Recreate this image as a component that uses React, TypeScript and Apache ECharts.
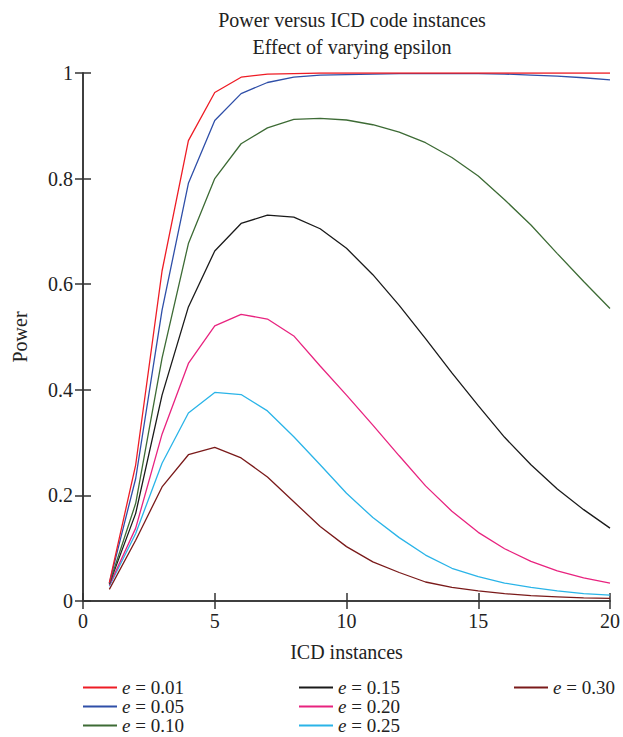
import React, { useEffect, useRef } from "react";
import * as echarts from "echarts";

const xValues = [1, 2, 3, 4, 5, 6, 7, 8, 9, 10, 11, 12, 13, 14, 15, 16, 17, 18, 19, 20];
const seriesNames = ["e = 0.01", "e = 0.05", "e = 0.10", "e = 0.15", "e = 0.20", "e = 0.25", "e = 0.30"];
const e001 = [0.035, 0.258, 0.625, 0.872, 0.963, 0.992, 0.998, 0.999, 1, 1, 1, 1, 1, 1, 1, 1, 1, 1, 1, 1];
const e005 = [0.034, 0.232, 0.551, 0.791, 0.91, 0.961, 0.982, 0.992, 0.996, 0.997, 0.998, 0.999, 0.999, 0.999, 0.999, 0.998, 0.996, 0.994, 0.991, 0.987];
const e010 = [0.033, 0.185, 0.46, 0.677, 0.8, 0.866, 0.896, 0.912, 0.914, 0.911, 0.902, 0.888, 0.868, 0.84, 0.805, 0.76, 0.712, 0.658, 0.605, 0.554];
const e015 = [0.032, 0.166, 0.39, 0.557, 0.663, 0.715, 0.731, 0.727, 0.705, 0.668, 0.618, 0.56, 0.497, 0.432, 0.37, 0.31, 0.258, 0.212, 0.173, 0.138];
const e020 = [0.03, 0.138, 0.316, 0.45, 0.521, 0.543, 0.534, 0.502, 0.445, 0.39, 0.333, 0.275, 0.218, 0.17, 0.13, 0.099, 0.075, 0.057, 0.044, 0.034];
const e025 = [0.028, 0.128, 0.261, 0.356, 0.395, 0.391, 0.36, 0.311, 0.258, 0.204, 0.158, 0.12, 0.087, 0.062, 0.046, 0.034, 0.026, 0.019, 0.014, 0.011];
const e030 = [0.022, 0.115, 0.216, 0.277, 0.291, 0.271, 0.235, 0.188, 0.141, 0.103, 0.074, 0.054, 0.036, 0.026, 0.019, 0.014, 0.01, 0.008, 0.006, 0.005];
const allValues = [e001, e005, e010, e015, e020, e025, e030];
const colors = ["#ee1c25", "#2f4fa8", "#3d6b35", "#1a1a1a", "#e8237f", "#2ab4e8", "#7a1a1a"];
const legendColumns = [
  ["e = 0.01", "e = 0.05", "e = 0.10"],
  ["e = 0.15", "e = 0.20", "e = 0.25"],
  ["e = 0.30"],
];
const legendLefts = [83, 299, 514];

const FONT = "'Liberation Serif', 'DejaVu Serif', serif";
const FS = 20;
const LEGEND_FS = 19;
const AXIS_COLOR = "#333";

export default function App() {
  const ref = useRef<HTMLDivElement>(null);
  useEffect(() => {
    if (!ref.current) return;
    const chart = echarts.init(ref.current, undefined, { renderer: "svg" });
    const axisLine = { show: true, lineStyle: { color: AXIS_COLOR, width: 1.5 } };
    const axisTick = { show: true, inside: true, length: 8, lineStyle: { color: AXIS_COLOR, width: 1.5 } };
    const labelStyle = { color: "#222", fontFamily: FONT, fontSize: FS };
    chart.setOption({
      animation: false,
      backgroundColor: "#fff",
      title: {
        text: "Power versus ICD code instances\nEffect of varying epsilon",
        left: 347,
        top: 1,
        textAlign: "center",
        textStyle: { fontFamily: FONT, fontSize: FS, fontWeight: "normal", color: "#222", lineHeight: 27 },
      },
      grid: { left: 83, right: 13, top: 73, bottom: 136, containLabel: false },
      legend: legendColumns.map((col, i) => ({
        data: col,
        orient: "vertical",
        left: legendLefts[i],
        top: 678,
        height: 100,
        padding: 0,
        itemWidth: 34,
        itemHeight: 2,
        itemGap: 0,
        icon: "rect",
        textStyle: {
          fontFamily: FONT,
          fontSize: LEGEND_FS,
          color: "#222",
          lineHeight: 19,
          rich: {
            i: { fontFamily: FONT, fontSize: LEGEND_FS, fontStyle: "italic", color: "#222", lineHeight: 19 },
            n: { fontFamily: FONT, fontSize: LEGEND_FS, color: "#222", lineHeight: 19 },
          },
        },
        formatter: (name: string) => `{i|e}{n|${name.slice(1)}}`,
      })),
      xAxis: [
        {
          type: "value",
          min: 0,
          max: 20,
          interval: 5,
          position: "bottom",
          name: "ICD instances",
          nameLocation: "middle",
          nameGap: 41,
          nameTextStyle: { fontFamily: FONT, fontSize: FS, color: "#222" },
          axisLine,
          axisTick,
          axisLabel: { ...labelStyle, margin: 10 },
          splitLine: { show: false },
        },
        {
          type: "value",
          min: 0,
          max: 20,
          interval: 5,
          position: "top",
          axisLine,
          axisTick,
          axisLabel: { show: false },
          splitLine: { show: false },
        },
      ],
      yAxis: [
        {
          type: "value",
          min: 0,
          max: 1,
          interval: 0.2,
          position: "left",
          name: "Power",
          nameLocation: "middle",
          nameGap: 53,
          nameTextStyle: { fontFamily: FONT, fontSize: FS, color: "#222" },
          axisLine,
          axisTick,
          axisLabel: { ...labelStyle, margin: 10, formatter: (v: number) => String(parseFloat(v.toFixed(1))) },
          splitLine: { show: false },
        },
        {
          type: "value",
          min: 0,
          max: 1,
          interval: 0.2,
          position: "right",
          axisLine,
          axisTick,
          axisLabel: { show: false },
          splitLine: { show: false },
        },
      ],
      series: seriesNames.map((name, i) => ({
        name,
        type: "line",
        xAxisIndex: 0,
        yAxisIndex: 0,
        symbol: "none",
        showSymbol: false,
        color: colors[i],
        lineStyle: { color: colors[i], width: 1.3 },
        data: xValues.map((x, j) => [x, allValues[i][j]]),
        z: 10 - i,
      })),
    });
    return () => chart.dispose();
  }, []);
  return <div ref={ref} style={{ width: 623, height: 737, position: "absolute", left: 0, top: 0 }} />;
}
